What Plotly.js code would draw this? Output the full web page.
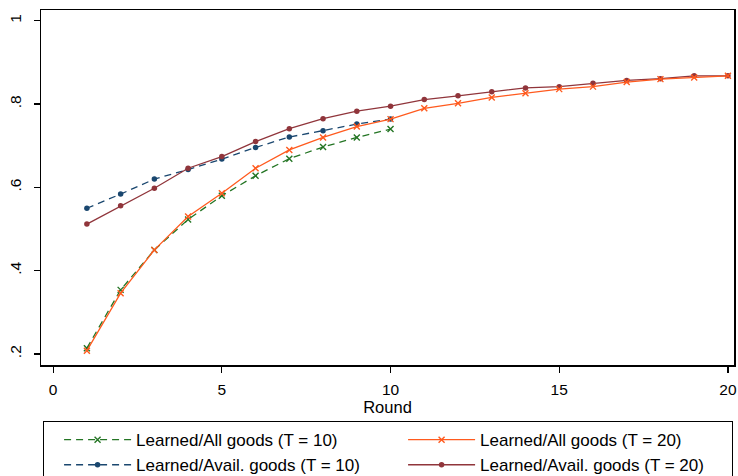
<!DOCTYPE html>
<html>
<head>
<meta charset="utf-8">
<script src="https://cdn.plot.ly/plotly-3.0.1.min.js"></script>
<style>html,body{margin:0;padding:0;background:#fff;}#chart{width:738px;height:476px;}</style>
</head>
<body>
<div id="chart"></div>
<script>
const rounds10 = [1,2,3,4,5,6,7,8,9,10];
const rounds20 = [1,2,3,4,5,6,7,8,9,10,11,12,13,14,15,16,17,18,19,20];
const learnedAll10 = [0.214,0.354,0.450,0.523,0.580,0.628,0.669,0.697,0.720,0.740];
const learnedAll20 = [0.208,0.346,0.450,0.530,0.586,0.646,0.690,0.720,0.746,0.764,0.790,0.802,0.816,0.826,0.836,0.842,0.853,0.860,0.864,0.868];
const learnedAvail10 = [0.550,0.584,0.620,0.643,0.668,0.696,0.721,0.736,0.752,0.764];
const learnedAvail20 = [0.512,0.556,0.598,0.646,0.674,0.710,0.741,0.765,0.783,0.795,0.811,0.820,0.830,0.839,0.842,0.850,0.857,0.861,0.868,0.868];
const names = ["Learned/All goods (T = 10)","Learned/All goods (T = 20)","Learned/Avail. goods (T = 10)","Learned/Avail. goods (T = 20)"];
const yTickVals = [0.2,0.4,0.6,0.8,1];
const yTickText = [".2",".4",".6",".8","1"];
const xTickVals = [0,5,10,15,20];

const cGreen = "#247524", cOrange = "#ff5a1e", cBlue = "#1a476f", cRed = "#90353b";

const traces = [
  {x: rounds10, y: learnedAvail10, name: names[2], legendrank: 3, mode: "lines+markers",
   line: {color: cBlue, width: 1.3, dash: "7px,5px"}, marker: {symbol: "circle", size: 5.5, color: cBlue}},
  {x: rounds20, y: learnedAvail20, name: names[3], legendrank: 4, mode: "lines+markers",
   line: {color: cRed, width: 1.3}, marker: {symbol: "circle", size: 5.5, color: cRed}},
  {x: rounds10, y: learnedAll10, name: names[0], legendrank: 1, mode: "lines+markers",
   line: {color: cGreen, width: 1.3, dash: "7px,5px"}, marker: {symbol: "x-thin", size: 6, color: cGreen, line: {color: cGreen, width: 1.4}}},
  {x: rounds20, y: learnedAll20, name: names[1], legendrank: 2, mode: "lines+markers",
   line: {color: cOrange, width: 1.3}, marker: {symbol: "x-thin", size: 6, color: cOrange, line: {color: cOrange, width: 1.4}}}
];

const layout = {
  width: 738, height: 476,
  margin: {l: 41, r: 4, t: 10, b: 111, autoexpand: false},
  paper_bgcolor: "#fff", plot_bgcolor: "#fff",
  font: {family: "Liberation Sans, Arial, sans-serif", color: "#000", size: 15},
  showlegend: true,
  xaxis: {
    range: [-0.36, 20.18], tickvals: xTickVals, ticks: "outside", ticklen: 6, tickwidth: 1.3, tickcolor: "#000",
    showline: true, linecolor: "#000", linewidth: 1.5, mirror: true, showgrid: false, zeroline: false,
    tickfont: {size: 15.5}, ticklabelstandoff: 4,
    title: {text: "Round", font: {size: 16.5}, standoff: 0}
  },
  yaxis: {
    range: [0.1736, 1.026], tickvals: yTickVals, ticktext: yTickText, ticks: "outside", ticklen: 6, tickwidth: 1.3, tickcolor: "#000",
    showline: true, linecolor: "#000", linewidth: 1.5, mirror: true, showgrid: false, zeroline: false,
    tickangle: -90, tickfont: {size: 15.5}, ticklabelstandoff: 6
  },
  legend: {
    orientation: "h", x: 0.003, xanchor: "left", y: -0.158, yanchor: "top",
    bordercolor: "#000", borderwidth: 1, bgcolor: "#fff",
    indentation: 15, itemwidth: 67,
    entrywidth: 247, font: {size: 17}, traceorder: "normal"
  }
};

Plotly.newPlot("chart", traces, layout, {displayModeBar: false, staticPlot: true});
</script>
</body>
</html>
